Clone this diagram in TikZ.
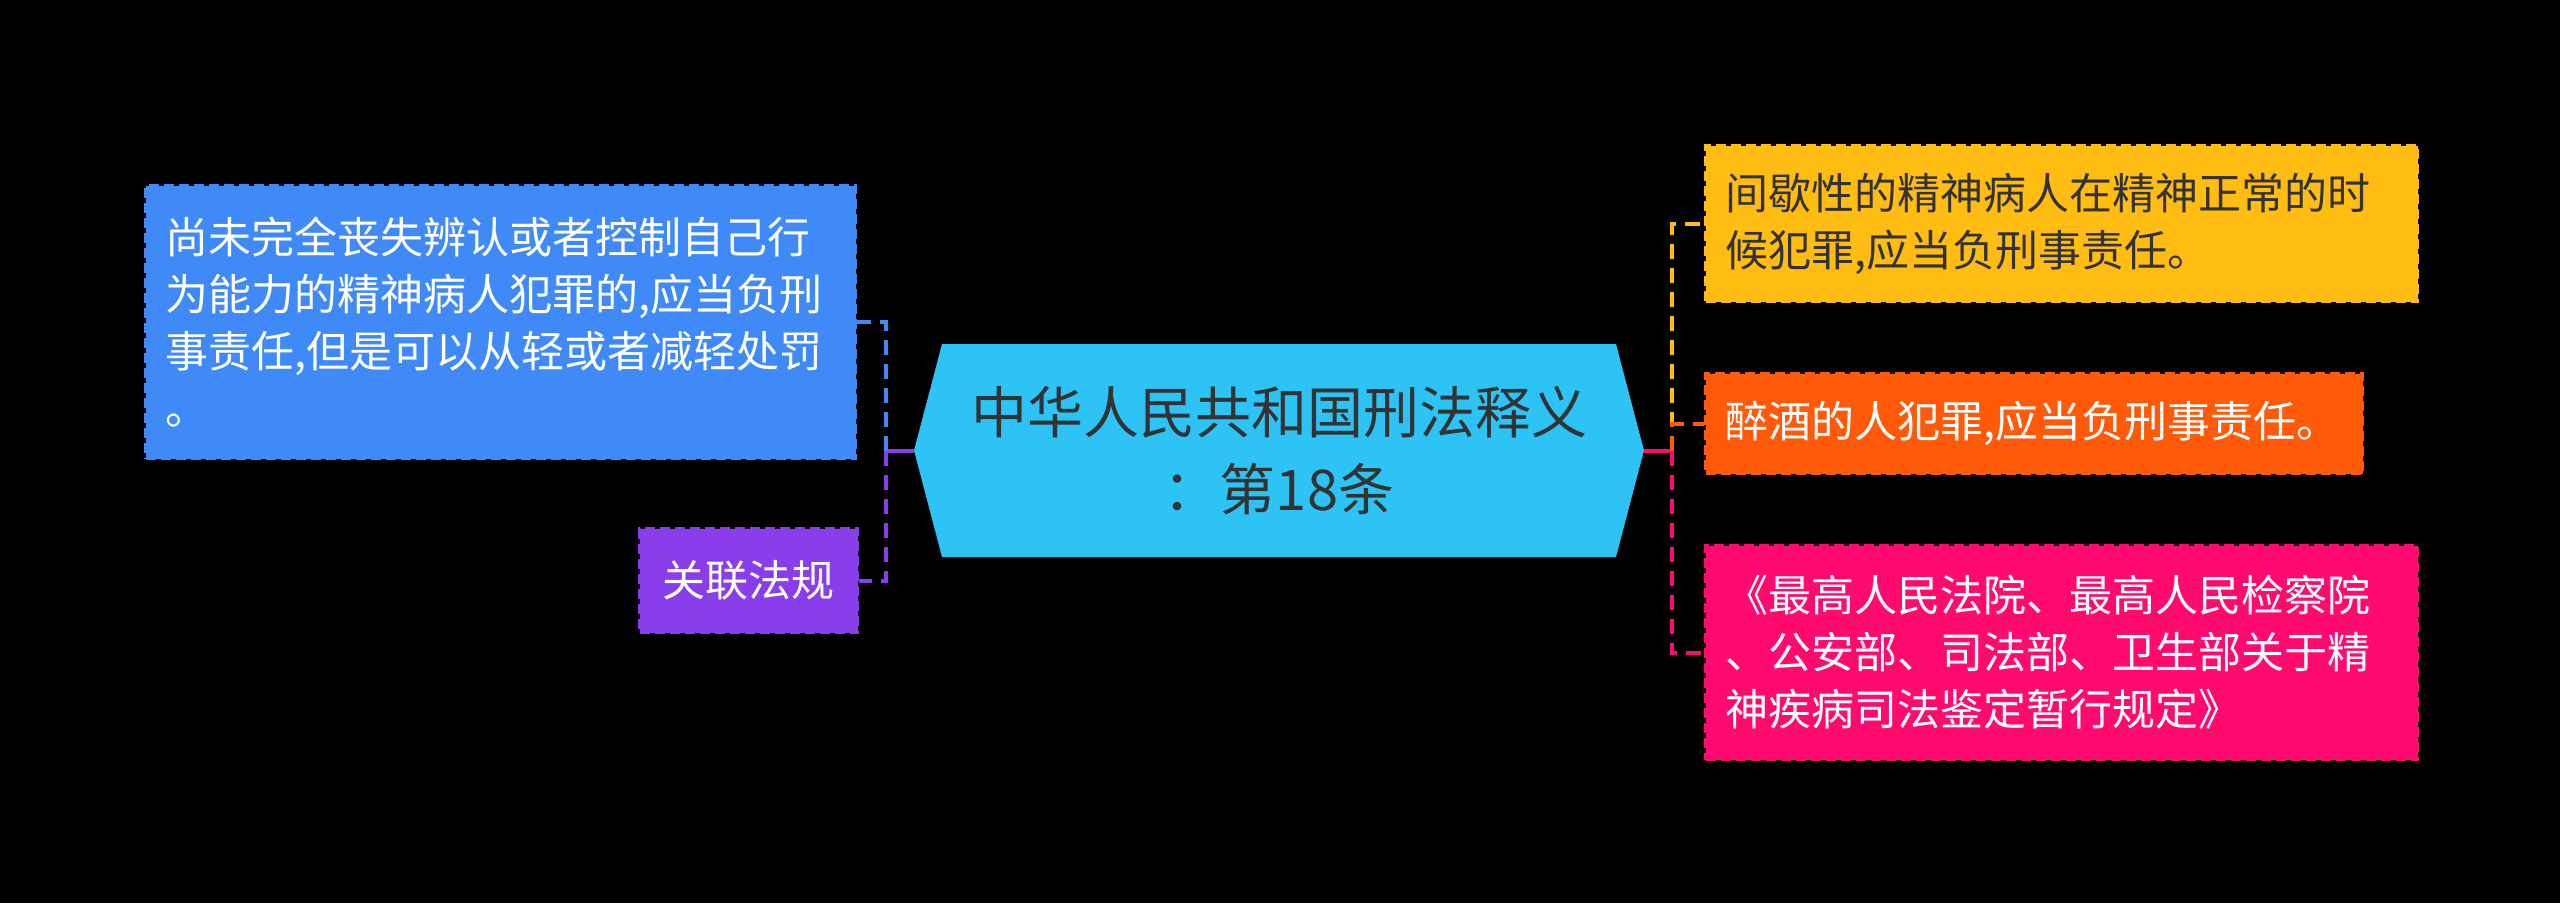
\documentclass[tikz,border=0pt]{standalone}
\usepackage{fontspec}
\setmainfont{Noto Sans CJK SC}
\definecolor{cblue}{HTML}{408AF8}
\definecolor{cpurple}{HTML}{8A3EEB}
\definecolor{ccyan}{HTML}{2DC3F5}
\definecolor{cyellow}{HTML}{FFBD14}
\definecolor{corange}{HTML}{FF5A0A}
\definecolor{cpink}{HTML}{FF0A6E}
\definecolor{cdark}{HTML}{333333}
\tikzset{
  box/.style={rectangle, anchor=north west, inner xsep=20pt, inner ysep=0pt,
    align=left, font=\fontsize{43}{57}\selectfont, line width=3pt,
    dash pattern=on 10pt off 5pt},
  link/.style={line width=4pt, dash pattern=on 15pt off 9pt},
  stub/.style={line width=4pt},
}
\begin{document}
\begin{tikzpicture}[x=1pt,y=1pt]
\fill[black] (0,0) rectangle (2560,-903);
\useasboundingbox (0,0) rectangle (2560,-903);
% hub hexagon
\fill[ccyan] (914,-450.5) -- (942,-344) -- (1616,-344) -- (1644,-450.5) -- (1616,-557) -- (942,-557) -- cycle;
\node[rectangle, minimum width=730pt, minimum height=213pt, inner sep=0pt, align=center,
  text=cdark, font=\fontsize{56}{77}\selectfont] (hub) at (1279,-450.5)
  {中华人民共和国刑法释义\\：第18条};
% left children
\node[box, fill=cblue, draw=cblue, text=white, text width=670pt, minimum height=273pt] (blue) at (144,-184)
  {尚未完全丧失辨认或者控制自己行\\为能力的精神病人犯罪的,应当负刑\\事责任,但是可以从轻或者减轻处罚\\。};
\node[box, fill=cpurple, draw=cpurple, text=white, text width=178pt, minimum height=104pt, align=center] (rel) at (638,-527)
  {关联法规};
% right children
\node[box, fill=cyellow, draw=cyellow, text=cdark, text width=672pt, minimum height=156pt] (yel) at (1704,-144)
  {间歇性的精神病人在精神正常的时\\候犯罪,应当负刑事责任。};
\node[box, fill=corange, draw=corange, text=white, text width=617pt, minimum height=100pt] (ora) at (1704,-372)
  {醉酒的人犯罪,应当负刑事责任。};
\node[box, fill=cpink, draw=cpink, text=white, text width=672pt, minimum height=214pt] (pin) at (1704,-544)
  {《最高人民法院、最高人民检察院\\、公安部、司法部、卫生部关于精\\神疾病司法鉴定暂行规定》};
% connectors
\coordinate (L) at (886,-450.5);
\coordinate (R) at (1672,-450.5);
\draw[stub, cpurple] (hub.west) -- (L);
\draw[link, cblue] (L) |- (blue.east);
\draw[link, cpurple] (L) |- (rel.east);
\draw[stub, cpink] (hub.east) -- (R);
\draw[link, cyellow] (R) |- (yel.west);
\draw[link, corange] (R) |- (ora.west);
\draw[link, cpink] (R) |- (pin.west);
\end{tikzpicture}
\end{document}
